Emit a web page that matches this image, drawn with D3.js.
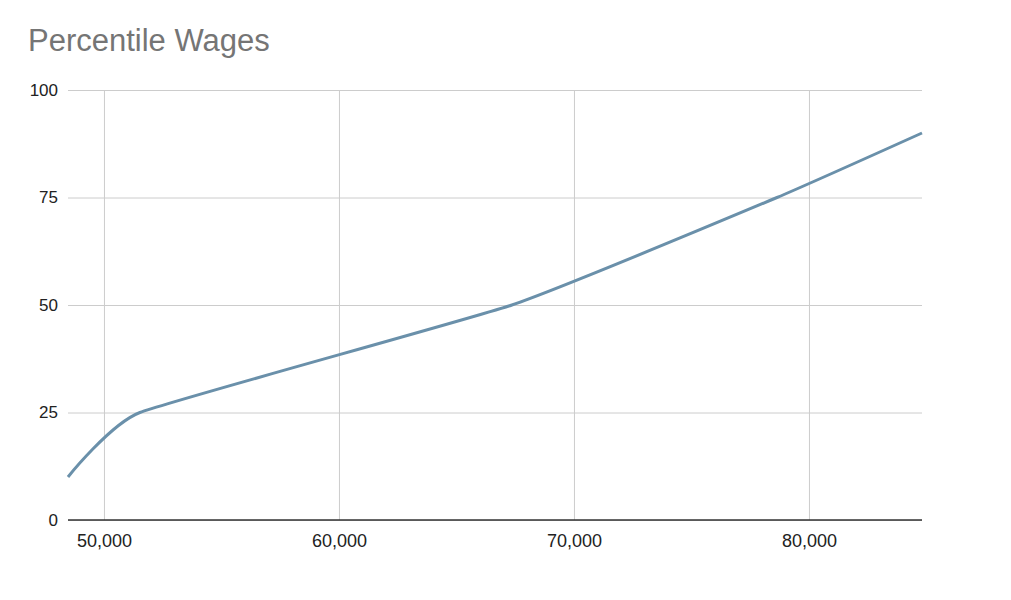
<!DOCTYPE html>
<html><head><meta charset="utf-8">
<script src="https://cdn.jsdelivr.net/npm/d3@7"></script>
<style>body{margin:0;background:#fff;}svg{display:block;font-family:"Liberation Sans",Arial,sans-serif;}</style>
</head><body>
<svg id="c" width="1011" height="600"></svg>
<script>
const title = "Percentile Wages";
const wages = [48470, 51530, 67360, 78640, 84810];
const percentiles = [10, 25, 50, 75, 90];
const xTicks = [50000, 60000, 70000, 80000];
const yTicks = [0, 25, 50, 75, 100];

const svg = d3.select("#c");
const m = {left: 68, right: 922, top: 90, bottom: 520};
const x = d3.scaleLinear().domain([d3.min(wages), d3.max(wages)]).range([m.left, m.right]);
const y = d3.scaleLinear().domain([0, 100]).range([m.bottom, m.top]);

svg.append("rect").attr("width",1011).attr("height",600).attr("fill","#fff");
svg.append("text").attr("x",28).attr("y",51).attr("fill","#757575")
  .attr("font-size",31).text(title);

// y grid + labels
const gy = svg.append("g").attr("transform",`translate(${m.left},0)`)
  .call(d3.axisLeft(y).tickValues(yTicks).tickSize(-(m.right-m.left)).tickPadding(10).tickFormat(d3.format("d")));
gy.select(".domain").remove();
gy.selectAll(".tick line").attr("stroke","#cccccc").attr("stroke-width",1);
gy.selectAll(".tick text").attr("font-size",17).attr("fill","#222").attr("font-family","Liberation Sans, Arial, sans-serif");

// x grid + labels
const gx = svg.append("g").attr("transform",`translate(0,${m.bottom})`)
  .call(d3.axisBottom(x).tickValues(xTicks).tickSize(-(m.bottom-m.top)).tickPadding(14).tickFormat(d3.format(",")));
gx.select(".domain").remove();
gx.selectAll(".tick line").attr("stroke","#cccccc").attr("stroke-width",1);
gx.selectAll(".tick text").attr("font-size",18).attr("fill","#222").attr("font-family","Liberation Sans, Arial, sans-serif");

// baseline
svg.append("line").attr("x1",m.left).attr("x2",m.right).attr("y1",y(0)).attr("y2",y(0))
  .attr("stroke","#333").attr("stroke-width",1.5);

const data = wages.map((w,i)=>({w, p: percentiles[i]}));
svg.append("path").datum(data)
  .attr("fill","none").attr("stroke","#6a90aa").attr("stroke-width",3).attr("stroke-linejoin","round")
  .attr("d", d3.line().x(d=>x(d.w)).y(d=>y(d.p)).curve(d3.curveCardinal.tension(0.6)));
</script>
</body></html>
